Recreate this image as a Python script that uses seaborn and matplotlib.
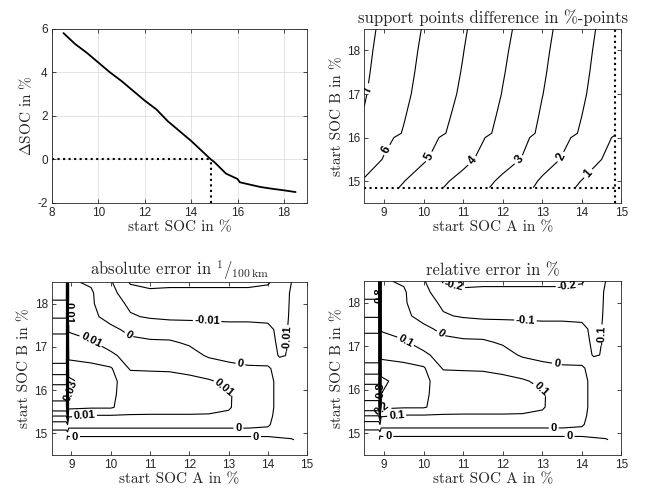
import numpy as np
import pandas as pd
import matplotlib
matplotlib.use('Agg')
import matplotlib.pyplot as plt
import seaborn as sns

# ---------------------------------------------------------------------------
# data
# ---------------------------------------------------------------------------
soc_ref = 14.85  # start SOC where delta SOC crosses zero

soc_start = [8.5, 9.0, 9.5, 10.0, 10.5, 11.0, 11.5, 12.0, 12.5,
             13.0, 13.5, 14.0, 14.5, 14.85, 15.0, 15.5, 16.0, 16.1, 16.5,
             17.0, 17.5, 18.0, 18.5]
delta_soc = [5.8, 5.3, 4.9, 4.45, 4.0, 3.6, 3.15, 2.7, 2.3,
             1.75, 1.3, 0.85, 0.35, 0.0, -0.12, -0.65, -0.9, -1.05, -1.15,
             -1.27, -1.35, -1.42, -1.5]

# error maps: columns = start SOC A, rows = start SOC B
err_soc_a = [8.5, 8.87, 8.9, 8.93, 9.5, 10.0, 10.5, 11.0, 11.5, 12.0, 12.5,
             13.0, 13.5, 14.0, 14.3, 14.6, 14.85]
err_soc_b = [14.85, 15.0, 15.2, 15.4, 15.6, 15.9, 16.2, 16.5, 16.8, 17.1,
             17.4, 17.7, 18.0, 18.25, 18.5]
# absolute error in 1e-3 * 1/100km
abs_err_milli = [
    [-3, -3, 3, 3, 3, 3, 3, 3, 3, 3, 3, 3, 3, 3, 2, 1, -3],
    [-3, -3, -2, -3, -3, -3, -3, -3, -3, -3, -3, -3, -3, -3, -4, -5, -5],
    [5, 5, 10, 2, 2, 2, 2, 2, 2, 2, 2, 2, 2, 1, -4, -5, -6],
    [20, 20, 35, 11, 9, 9, 9, 9, 9, 9, 9, 8, 3, 2, -3, -5, -6],
    [37, 37, 75, 22, 21, 21, 15, 14, 14, 14, 13, 11, 4, 2, -2, -5, -6],
    [43, 43, 85, 30, 25, 22, 15, 14, 14, 13, 13, 11, 5, 2, -2, -5, -6],
    [39, 39, 85, 33, 24, 22, 16, 14, 13, 12, 11, 8, 5, 2, -2, -5, -6],
    [22, 22, 85, 24, 23, 21, 9, 9, 9, 8, 5, 2, 1, 1, -3, -6, -7],
    [17, 17, 85, 18, 16, 12, 6, 5, 4, 3, -1, -2, -3, -4, -11, -9, -8],
    [14, 14, 85, 14, 11, 6, 2, 1, 1, -1, -3, -4, -5, -6, -12, -9, -8],
    [8, 8, 85, 9, 6, 2, -2, -3, -4, -5, -6, -7, -7, -8, -12, -9, -8],
    [-1, -1, 85, 4, 2, -3, -9, -11, -12, -12, -12, -12, -12, -12, -13, -9, -8],
    [-9, -9, 85, 3, 1, -5, -12, -14, -14, -14, -14, -14, -14, -14, -14, -9, -8],
    [-12, -12, 85, 2, 1, -7, -16, -18, -18, -18, -18, -18, -18, -17, -15, -9, -8],
    [-15, -15, 85, 1, -1, -9, -21, -23, -22, -22, -22, -22, -22, -21, -16, -10, -8],
]
ref_value = 10.0  # reference consumption for the relative error

# ---------------------------------------------------------------------------
# style (MATLAB-like)
# ---------------------------------------------------------------------------
sns.set_theme(style='ticks')
plt.rcParams.update({
    'font.family': ['Liberation Sans', 'DejaVu Sans'],
    'mathtext.fontset': 'cm',
    'axes.unicode_minus': False,
    'axes.edgecolor': '#262626',
    'axes.linewidth': 0.6,
    'xtick.direction': 'in', 'ytick.direction': 'in',
    'xtick.top': True, 'ytick.right': True,
    'xtick.major.size': 3, 'ytick.major.size': 3,
    'xtick.major.width': 0.6, 'ytick.major.width': 0.6,
    'xtick.labelsize': 8.5, 'ytick.labelsize': 8.5,
    'xtick.color': '#262626', 'ytick.color': '#262626',
    'xtick.major.pad': 3, 'ytick.major.pad': 3,
    'contour.negative_linestyle': 'solid',
})

LABEL_KW = dict(fontsize=11, fontfamily='cmr10')
TITLE_KW = dict(fontsize=12, fontfamily='cmr10')


def fmt(v):
    return '%g' % (round(v, 3) + 0.0)


fig = plt.figure(figsize=(6.48, 4.95), dpi=100)
ax_tl = fig.add_axes([0.080, 0.590, 0.394, 0.352])
ax_tr = fig.add_axes([0.562, 0.590, 0.397, 0.352])
ax_bl = fig.add_axes([0.080, 0.081, 0.394, 0.349])
ax_br = fig.add_axes([0.562, 0.081, 0.397, 0.351])

# ---------------------------------------------------------------------------
# top left: delta SOC over start SOC
# ---------------------------------------------------------------------------
curve = pd.DataFrame({'start': soc_start, 'dsoc': delta_soc})
ax_tl.grid(True, color='#dedede', lw=0.6, zorder=0)
sns.lineplot(data=curve, x='start', y='dsoc', color='black', lw=1.3, ax=ax_tl)
ax_tl.hlines(0, 8, soc_ref, colors='black', linestyles=':', lw=1.5)
ax_tl.vlines(soc_ref, -2, 0, colors='black', linestyles=':', lw=1.5)
ax_tl.set_xlim(8, 19)
ax_tl.set_ylim(-2, 6)
ax_tl.set_xticks([8, 10, 12, 14, 16, 18])
ax_tl.set_yticks([-2, 0, 2, 4, 6])
ax_tl.set_xlabel('start SOC in %', labelpad=1, **LABEL_KW)
ax_tl.set_ylabel(r'$\Delta$SOC in %', labelpad=2, **LABEL_KW)

# ---------------------------------------------------------------------------
# top right: support points difference
# ---------------------------------------------------------------------------
dsoc = pd.Series(delta_soc, index=soc_start)
soc_a = [s for s in soc_start if s <= soc_ref]
soc_b = [s for s in soc_start if s >= soc_ref]
diff = np.add.outer(-dsoc[soc_b].values, dsoc[soc_a].values)

cs = ax_tr.contour(soc_a, soc_b, diff, levels=[1, 2, 3, 4, 5, 6, 7],
                   colors='black', linewidths=0.8)
lbl = ax_tr.clabel(cs, fmt=fmt, fontsize=8.5, inline=True, inline_spacing=3,
                   manual=[(8.65, 17.11), (9.11, 15.70), (10.09, 15.58),
                           (11.22, 15.48), (12.36, 15.54), (13.41, 15.58),
                           (14.13, 15.2)])
for t in lbl:
    t.set_fontweight('bold')
ax_tr.hlines(soc_ref, 8.5, 15, colors='black', linestyles=':', lw=1.5)
ax_tr.vlines(soc_ref, 14.5, 18.5, colors='black', linestyles=':', lw=1.5)
ax_tr.set_title('support points difference in %-points', pad=4, **TITLE_KW)

# ---------------------------------------------------------------------------
# bottom: absolute and relative error
# ---------------------------------------------------------------------------
abs_err = pd.DataFrame(abs_err_milli, index=err_soc_b, columns=err_soc_a) / 1000
rel_err = abs_err / ref_value * 100

abs_levels = np.round(np.arange(-3, 9) * 0.01, 2)
rel_levels = np.round(np.arange(-3, 9) * 0.1, 1)

cs = ax_bl.contour(err_soc_a, err_soc_b, abs_err.values, levels=abs_levels,
                   colors='black', linewidths=0.8)
lbl = ax_bl.clabel(cs, fmt=fmt, fontsize=8, inline=True, inline_spacing=2,
                   manual=[(8.96, 17.78), (9.57, 17.27), (10.43, 17.24),
                           (12.45, 17.5), (14.45, 17.2), (13.3, 16.6),
                           (12.83, 16.0), (8.96, 16.0), (9.34, 15.3),
                           (13.25, 15.13), (9.09, 14.92), (13.7, 14.92)])
for t in lbl:
    t.set_fontweight('bold')
ax_bl.set_title(r'absolute error in $^{1}/_{100\,\mathrm{km}}$', pad=4, **TITLE_KW)

cs = ax_br.contour(err_soc_a, err_soc_b, rel_err.values, levels=rel_levels,
                   colors='black', linewidths=0.8)
lbl = ax_br.clabel(cs, fmt=fmt, fontsize=8, inline=True, inline_spacing=2,
                   manual=[(8.9, 18.18), (10.76, 18.35), (13.63, 18.35),
                           (12.57, 17.5), (14.47, 17.26), (9.66, 17.26),
                           (10.38, 17.22), (13.37, 16.6), (12.95, 16.0),
                           (8.9, 16.0), (8.95, 15.57), (9.33, 15.3),
                           (13.29, 15.13), (9.11, 14.92), (13.69, 14.92)])
for t in lbl:
    t.set_fontweight('bold')
ax_br.set_title('relative error in %', pad=4, **TITLE_KW)

for ax in (ax_tr, ax_bl, ax_br):
    ax.set_xlim(8.5, 15)
    ax.set_ylim(14.5, 18.5)
    ax.set_xticks([9, 10, 11, 12, 13, 14, 15])
    ax.set_yticks([15, 16, 17, 18])
    ax.set_xlabel('start SOC A in %', labelpad=1, **LABEL_KW)
    ax.set_ylabel('start SOC B in %', labelpad=2, **LABEL_KW)

for ax in (ax_tl, ax_tr, ax_bl, ax_br):
    for side in ('top', 'right', 'bottom', 'left'):
        ax.spines[side].set_visible(True)

fig.savefig('out.png', dpi=100)
